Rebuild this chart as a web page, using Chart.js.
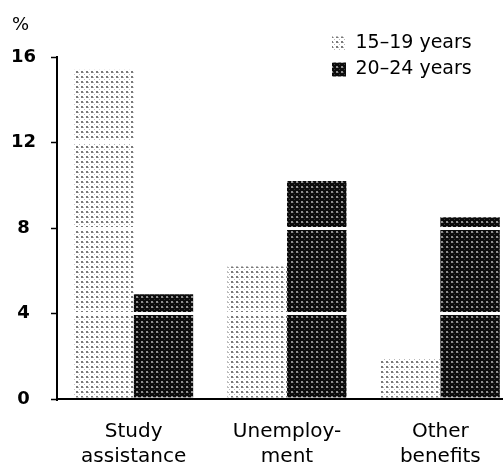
<!DOCTYPE html>
<html>
<head>
<meta charset="utf-8">
<script src="https://cdn.jsdelivr.net/npm/chart.js@4.4.1/dist/chart.umd.min.js"></script>
<style>
  html, body { margin: 0; padding: 0; background: #fff; overflow: hidden; }
  #wrap { width: 503px; height: 468px; overflow: hidden; position: relative; }
  canvas { display: block; }
</style>
</head>
<body>
<div id="wrap"><canvas id="c" width="520" height="468"></canvas></div>
<script>
const categories = [['Study', 'assistance'], ['Unemploy-', 'ment'], ['Other', 'benefits']];
const seriesNames = ['15\u201319 years', '20\u201324 years'];
const values1519 = [15.4, 6.2, 1.9];
const values2024 = [4.9, 10.2, 8.5];
const yTicks = [0, 4, 8, 12, 16];
const unitLabel = '%';

const FONT = '"DejaVu Sans", Verdana, sans-serif';

function makePattern(bg, dot, size, dotSize, dot2) {
  const c = document.createElement('canvas');
  c.width = size; c.height = size;
  const x = c.getContext('2d');
  x.fillStyle = bg; x.fillRect(0, 0, size, size);
  x.fillStyle = dot; x.fillRect(1, 1, dotSize, dotSize);
  if (dot2) { x.fillStyle = dot2; x.fillRect(size - 1, size - 1, 1, 1); x.fillRect(1 + dotSize, 2, 1, 1); }
  return x.createPattern(c, 'repeat');
}
const lightFill = makePattern('#ffffff', '#7a7a7a', 5, 2, '#b8b8b8');
const darkFill = makePattern('#0c0c0c', '#8e8e8e', 5, 2, '#3a3a3a');

const unitPlugin = {
  id: 'unitLabel',
  afterDraw(chart) {
    const ctx = chart.ctx;
    ctx.save();
    ctx.fillStyle = '#000';
    ctx.font = '18px ' + FONT;
    ctx.textBaseline = 'middle';
    ctx.textAlign = 'left';
    ctx.fillText(unitLabel, 12, 25);
    ctx.restore();
  }
};
const legendPlacer = {
  id: 'legendPlacer',
  afterLayout(chart) {
    const lg = chart.legend;
    if (!lg) return;
    const w = lg.width, h = lg.height;
    lg.left = 325; lg.top = 27;
    lg.right = lg.left + w; lg.bottom = lg.top + h;
  }
};

new Chart(document.getElementById('c'), {
  type: 'bar',
  data: {
    labels: categories,
    datasets: [
      { label: seriesNames[0], data: values1519, backgroundColor: lightFill, borderWidth: 0 },
      { label: seriesNames[1], data: values2024, backgroundColor: darkFill, borderWidth: 0 }
    ]
  },
  options: {
    responsive: false,
    devicePixelRatio: 1,
    animation: false,
    layout: { padding: { left: 0, right: 3, top: 57, bottom: 0 } },
    datasets: { bar: { categoryPercentage: 0.776, barPercentage: 1.0 } },
    plugins: {
      tooltip: { enabled: false },
      legend: {
        position: 'chartArea',
        align: 'start',
        labels: {
          color: '#000',
          font: { family: FONT, size: 19 },
          boxWidth: 14, boxHeight: 14, padding: 7
        }
      }
    },
    scales: {
      x: {
        grid: { display: false },
        border: { display: true, color: '#000', width: 2, z: 1 },
        ticks: {
          color: '#000',
          padding: 12,
          maxRotation: 0,
          autoSkip: false,
          font: { family: FONT, size: 20, lineHeight: '25px' }
        },
        afterFit(scale) { scale.height = 69; }
      },
      y: {
        min: 0, max: 16,
        afterBuildTicks(scale) { scale.ticks = yTicks.map(v => ({ value: v })); },
        grid: {
          z: 1,
          lineWidth: 3,
          color: ctx => (ctx.tick && (ctx.tick.value === 0 || ctx.tick.value === 16)) ? 'rgba(0,0,0,0)' : '#ffffff',
          tickColor: '#000',
          tickLength: 6,
          tickWidth: 1.5
        },
        border: { display: true, color: '#000', width: 2, z: 1 },
        ticks: {
          color: '#000',
          crossAlign: 'center',
          padding: 15,
          font: { family: FONT, size: 18, weight: 'bold' }
        },
        afterFit(scale) { scale.width = 57; }
      }
    }
  },
  plugins: [unitPlugin, legendPlacer]
});
</script>
</body>
</html>
